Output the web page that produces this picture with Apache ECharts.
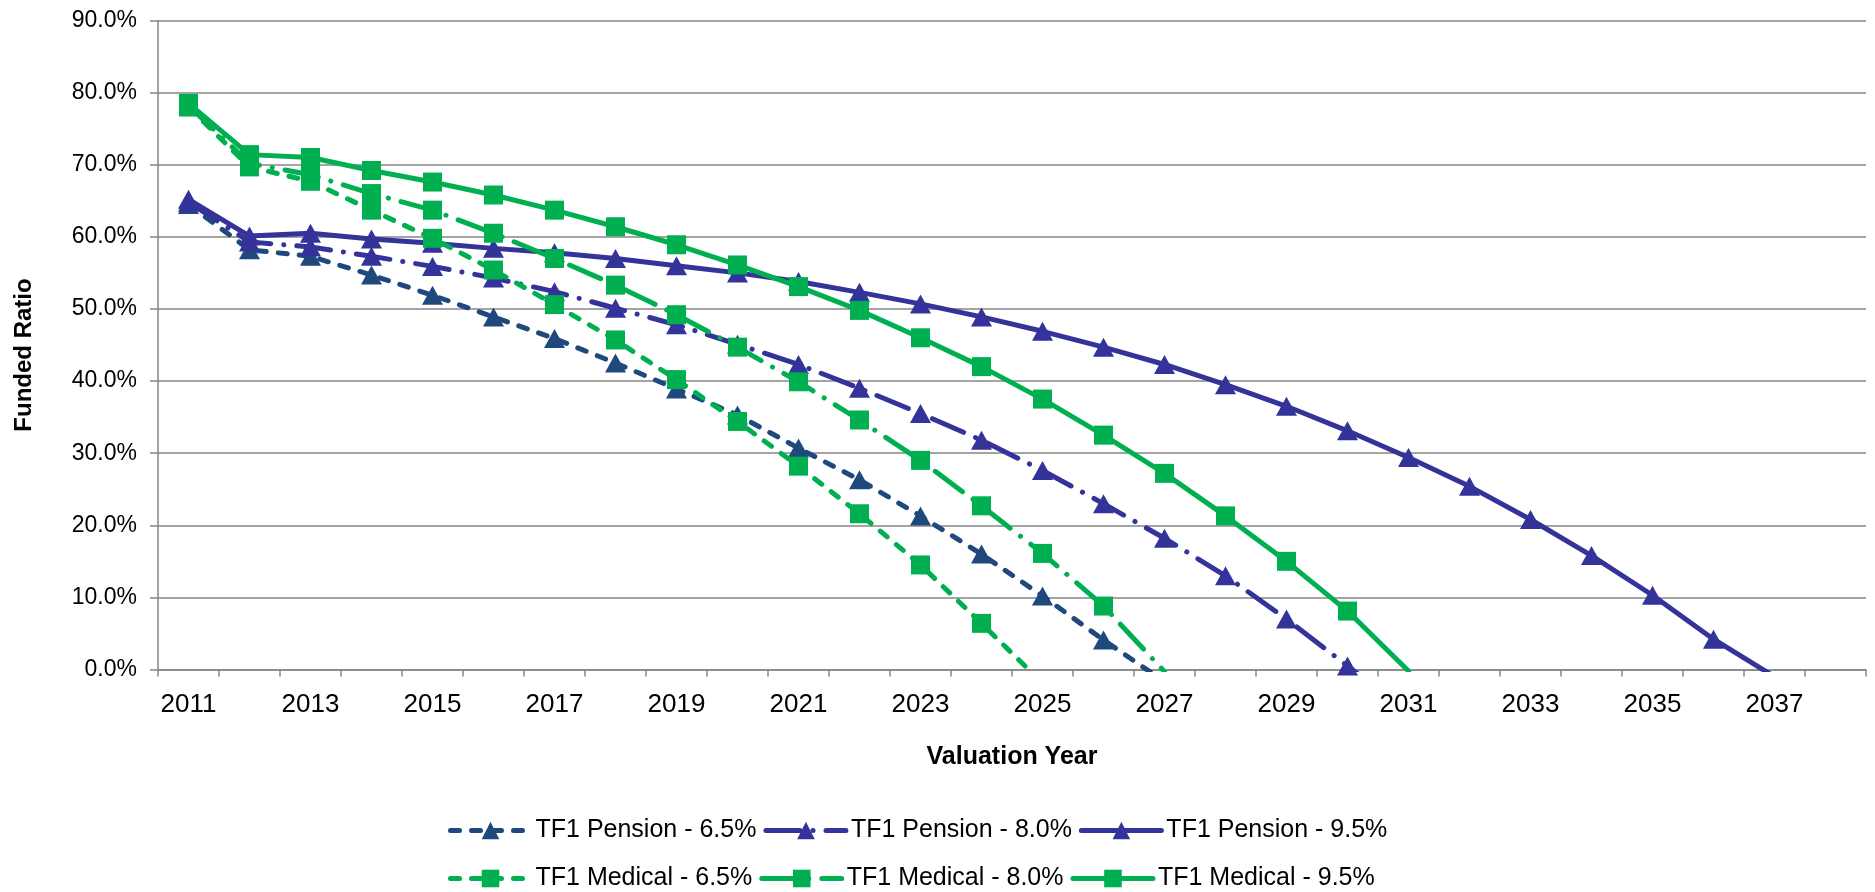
<!DOCTYPE html>
<html>
<head>
<meta charset="utf-8">
<script src="https://cdn.jsdelivr.net/npm/echarts@6/dist/echarts.min.js"></script>
<style>
html,body{margin:0;padding:0;background:#fff;}
#chart{width:1875px;height:892px;}
</style>
</head>
<body>
<div id="chart"></div>
<script>
var years = ['2011','2012','2013','2014','2015','2016','2017','2018','2019','2020','2021','2022','2023','2024','2025','2026','2027','2028','2029','2030','2031','2032','2033','2034','2035','2036','2037','2038'];
var yTicks = [0,10,20,30,40,50,60,70,80,90];

var pension65 = [64.5,58.2,57.3,54.7,51.9,48.9,45.9,42.5,38.9,35.3,30.7,26.3,21.3,16.0,10.2,4.1,-1.7];
var pension80 = [64.8,59.3,58.6,57.3,55.9,54.3,52.4,50.1,47.8,45.1,42.3,39.0,35.5,31.8,27.6,23.0,18.2,13.0,7.0,0.5,-6.0];
var pension95 = [65.2,60.1,60.5,59.7,59.1,58.4,57.8,57.0,56.0,55.0,53.8,52.3,50.7,48.9,46.9,44.7,42.3,39.5,36.5,33.1,29.4,25.4,20.8,15.8,10.3,4.2,-1.0];
var medical65 = [78.0,69.7,67.7,63.7,59.8,55.4,50.6,45.7,40.2,34.4,28.2,21.6,14.5,6.4,-1.9];
var medical80 = [78.2,70.2,68.6,66.0,63.7,60.5,57.0,53.3,49.2,44.7,39.9,34.6,29.0,22.7,16.1,8.8,-0.3];
var medical95 = [78.5,71.4,71.0,69.2,67.6,65.8,63.7,61.4,58.9,56.1,53.1,49.8,46.0,42.0,37.5,32.5,27.2,21.3,15.0,8.1,-0.2];

var names = ['TF1 Pension - 6.5%','TF1 Pension - 8.0%','TF1 Pension - 9.5%','TF1 Medical - 6.5%','TF1 Medical - 8.0%','TF1 Medical - 9.5%'];
var dataSets = [pension65,pension80,pension95,medical65,medical80,medical95];
var colors = ['#1F497D','#333399','#333399','#00B050','#00B050','#00B050'];
var dashes = [[9,12],[34,13,0.1,13],'solid',[9,12],[34,13,0.1,13],'solid'];
var symbols = ['triangle','triangle','triangle','rect','rect','rect'];
var sizes = [[21,19],[21,19],[21,19],19,19,19];

var FONT = 'Liberation Sans, Arial, sans-serif';

var series = names.map(function(n,i){
  return {
    name: n,
    type: 'line',
    data: dataSets[i],
    symbol: symbols[i],
    symbolSize: sizes[i],
    showAllSymbol: true,
    clip: true,
    z: 2 + i,
    itemStyle: {color: colors[i]},
    lineStyle: {color: colors[i], width: 5, type: dashes[i], cap: 'round', join: 'round'},
    emphasis: {disabled: true},
    animation: false
  };
});

var chart = echarts.init(document.getElementById('chart'), null, {renderer:'canvas'});
var legendCommon = {
  left: 443,
  itemWidth: 80,
  itemHeight: 22,
  itemGap: 7,
  lineStyle: {width: 5},
  textStyle: {fontFamily: FONT, fontSize: 25, color: '#000'}
};
chart.setOption({
  backgroundColor: '#fff',
  animation: false,
  grid: {left: 158, right: 9, top: 20.5, bottom: 222.5, containLabel: false},
  legend: [
    Object.assign({}, legendCommon, {top: 813, data: names.slice(0,3)}),
    Object.assign({}, legendCommon, {top: 861, data: names.slice(3,6)})
  ],
  xAxis: {
    type: 'category',
    data: years,
    boundaryGap: true,
    name: 'Valuation Year',
    nameLocation: 'middle',
    nameGap: 75,
    nameTextStyle: {fontFamily: FONT, fontSize: 25, fontWeight: 'bold', color: '#000'},
    axisLine: {lineStyle: {color: '#868686', width: 1.5}},
    axisTick: {show: true, interval: 0, length: 7, lineStyle: {color: '#868686', width: 1.5}},
    axisLabel: {interval: 1, margin: 22, fontFamily: FONT, fontSize: 26, color: '#000'},
    splitLine: {show: false}
  },
  yAxis: {
    type: 'value',
    min: yTicks[0],
    max: yTicks[yTicks.length-1],
    interval: 10,
    name: 'Funded Ratio',
    nameLocation: 'middle',
    nameGap: 122,
    nameTextStyle: {fontFamily: FONT, fontSize: 24, fontWeight: 'bold', color: '#000', padding: [0, 20, 0, 0]},
    axisLine: {show: true, lineStyle: {color: '#868686', width: 1.5}},
    axisTick: {show: true, length: 8, lineStyle: {color: '#868686', width: 1.5}},
    axisLabel: {margin: 21, fontFamily: FONT, fontSize: 23, color: '#000',
      formatter: function(v){ return v.toFixed(1) + '%'; }},
    splitLine: {show: true, lineStyle: {color: '#868686', width: 1.5}}
  },
  series: series
});
</script>
</body>
</html>
